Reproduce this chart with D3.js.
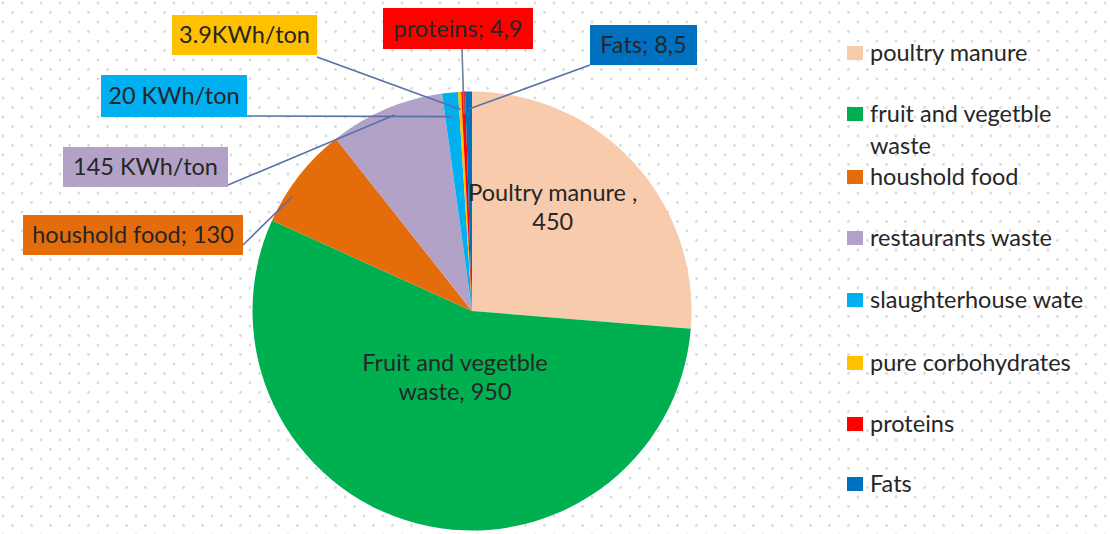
<!DOCTYPE html>
<html>
<head>
<meta charset="utf-8">
<script src="https://cdn.jsdelivr.net/npm/d3@7"></script>
<style>
  html, body { margin: 0; padding: 0; background: #fff; }
  svg { display: block; }
  text { font-family: Lato, "Open Sans", sans-serif; fill: #262626; }
</style>
</head>
<body>
<svg id="chart" width="1110" height="534"></svg>
<script>
// Energy yield by feedstock
const categories = [
  "poultry manure",
  "fruit and vegetble waste",
  "houshold food",
  "restaurants waste",
  "slaughterhouse wate",
  "pure corbohydrates",
  "proteins",
  "Fats"
];
const values = [450, 950, 130, 145, 20, 3.9, 4.9, 8.5];
const colors = ["#F8CBAD", "#00B050", "#E46C0A", "#B3A2C7", "#00B0F0", "#FFC000", "#FF0000", "#0070C0"];

const comma = v => String(v).replace(".", ",");

// Text of each slice's data label (lines)
const labelText = [
  v => ["Poultry manure ,", `${v}`],
  v => ["Fruit and vegetble", `waste, ${v}`],
  v => [`houshold food; ${v}`],
  v => [`${v} KWh/ton`],
  v => [`${v} KWh/ton`],
  v => [`${v}KWh/ton`],
  v => [`proteins; ${comma(v)}`],
  v => [`Fats; ${comma(v)}`]
];

const W = 1110, H = 534;
const cx = 472, cy = 311, R = 219.5;
const FS = 23.5;

const svg = d3.select("#chart");

// dotted background fill
const defs = svg.append("defs");
const pat = defs.append("pattern")
  .attr("id", "dots").attr("patternUnits", "userSpaceOnUse")
  .attr("width", 19).attr("height", 19);
pat.append("circle").attr("cx", 3).attr("cy", 3).attr("r", 1.4).attr("fill", "#dadada");
pat.append("circle").attr("cx", 12.5).attr("cy", 12.5).attr("r", 1.4).attr("fill", "#dadada");
svg.append("rect").attr("width", W).attr("height", H).attr("fill", "#fff");
svg.append("rect").attr("width", W).attr("height", H).attr("fill", "url(#dots)");

const pie = d3.pie().sort(null).value(d => d.value);
const data = categories.map((c, i) => ({ name: c, value: values[i], color: colors[i], i }));
const arcs = pie(data);
const arc = d3.arc().innerRadius(0).outerRadius(R);

const g = svg.append("g").attr("transform", `translate(${cx},${cy})`);
g.selectAll("path.slice").data(arcs).join("path")
  .attr("class", "slice")
  .attr("d", arc)
  .attr("fill", d => d.data.color);

// point on a slice at a fraction t of its sweep, radius factor k
const midPoint = (d, k, t = 0.5) => {
  const a = d.startAngle + (d.endAngle - d.startAngle) * t;
  return [Math.sin(a) * R * k, -Math.cos(a) * R * k];
};

// labels placed inside the two large slices
const inside = [
  { i: 0, t: 0.4, k: 0.6 },
  { i: 1, t: 0.5, k: 0.31 }
];
inside.forEach(o => {
  const d = arcs[o.i];
  const [x, y] = midPoint(d, o.k, o.t);
  const lines = labelText[o.i](d.data.value);
  const lh = 29;
  const t = g.append("text").attr("text-anchor", "middle").attr("font-size", FS);
  lines.forEach((ln, j) => {
    t.append("tspan").attr("x", x).attr("y", y + (j - (lines.length - 1) / 2) * lh)
      .attr("dy", "0.35em").text(ln);
  });
});

// callout boxes with leader lines
const callouts = [
  { i: 2, x: 23, y: 215, w: 220, h: 40, ax: 243, ay: 245, k: 0.97, t: 0.3 },
  { i: 3, x: 63, y: 147, w: 165, h: 40, ax: 228, ay: 185, k: 0.96, t: 0.55 },
  { i: 4, x: 101, y: 75, w: 146, h: 42, ax: 247, ay: 116, k: 0.89, t: 0.5 },
  { i: 5, x: 172, y: 15, w: 145, h: 40, ax: 317, ay: 57, k: 0.92, t: 0.5 },
  { i: 6, x: 383, y: 8, w: 150, h: 41, ax: 462, ay: 49, k: 0.9, t: 0.5 },
  { i: 7, x: 590, y: 25, w: 107, h: 40, ax: 590, ay: 65, k: 0.92, t: 0.5 }
];
const lab = svg.append("g");
callouts.forEach(o => {
  const d = arcs[o.i];
  const [px, py] = midPoint(d, o.k, o.t);
  lab.append("line")
    .attr("x1", o.ax).attr("y1", o.ay)
    .attr("x2", cx + px).attr("y2", cy + py)
    .attr("stroke", o.i === 6 ? "#6f7f96" : "#5672a6").attr("stroke-width", 1.6);
});
callouts.forEach(o => {
  const d = arcs[o.i];
  lab.append("rect").attr("x", o.x).attr("y", o.y).attr("width", o.w).attr("height", o.h)
    .attr("fill", d.data.color);
  lab.append("text").attr("x", o.x + o.w / 2).attr("y", o.y + o.h / 2).attr("dy", "0.35em")
    .attr("text-anchor", "middle").attr("font-size", FS)
    .text(labelText[o.i](d.data.value)[0]);
});

// legend
const legendY = [53, 114, 177, 238, 300, 363, 424, 484];
const leg = svg.append("g");
data.forEach((d, i) => {
  const y = legendY[i];
  leg.append("rect").attr("x", 847).attr("y", y - 7).attr("width", 16).attr("height", 14)
    .attr("fill", d.color);
  const words = d.name === "fruit and vegetble waste" ? ["fruit and vegetble", "waste"] : [d.name];
  const t = leg.append("text").attr("font-size", FS);
  words.forEach((w, j) => {
    t.append("tspan").attr("x", 870).attr("y", y + j * 32).attr("dy", "0.35em").text(w);
  });
});
</script>
</body>
</html>
